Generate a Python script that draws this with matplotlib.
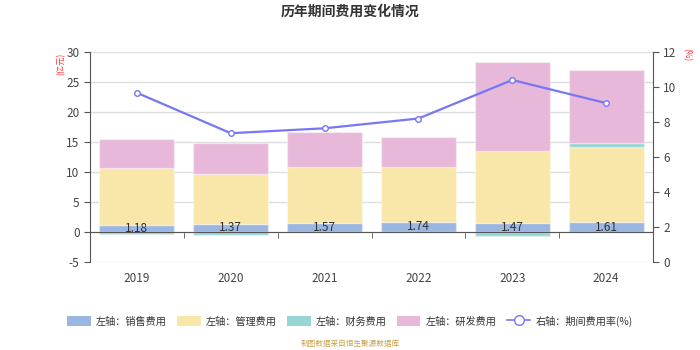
import matplotlib
matplotlib.use("Agg")
import matplotlib.pyplot as plt
import numpy as np
from matplotlib.patches import Patch
from matplotlib.lines import Line2D

plt.rcParams['font.family'] = ['Noto Sans CJK SC', 'DejaVu Sans']
plt.rcParams['axes.unicode_minus'] = False

years = ['2019', '2020', '2021', '2022', '2023', '2024']
sales = [1.18, 1.37, 1.57, 1.74, 1.47, 1.61]
admin = [9.55, 8.25, 9.25, 9.05, 12.05, 12.55]
finance = [-0.3, -0.45, -0.05, -0.05, -0.7, 0.7]
rnd = [4.75, 5.15, 5.8, 5.1, 14.8, 12.1]
rate = [9.67, 7.36, 7.64, 8.2, 10.4, 9.08]

series_names = ['左轴：销售费用', '左轴：管理费用', '左轴：财务费用', '左轴：研发费用']
line_name = '右轴：期间费用率(%)'
colors = ['#9bb7e1', '#f8e7a9', '#98d6d6', '#e7b8d9']
line_color = '#7777f6'

fig = plt.figure(figsize=(7, 3.5), dpi=100)
ax = fig.add_axes([90 / 700, 88 / 350, 563 / 700, 210 / 350])
ax2 = ax.twinx()

x = np.arange(len(years))
width = 0.8
pos_base = np.zeros(len(years))
neg_base = np.zeros(len(years))
for vals, color in zip([sales, admin, finance, rnd], colors):
    vals = np.array(vals, dtype=float)
    bottoms = np.where(vals >= 0, pos_base, neg_base)
    ax.bar(x, vals, width, bottom=bottoms, color=color,
           edgecolor=(1, 1, 1, 0.35), linewidth=1.0, zorder=3)
    pos_base = pos_base + np.where(vals >= 0, vals, 0)
    neg_base = neg_base + np.where(vals < 0, vals, 0)

for xi, v in zip(x, sales):
    ax.text(xi, v / 2, f'{v:.2f}', ha='center', va='center',
            fontsize=8.5, color='#333333', zorder=5)

ax.set_xlim(-0.5, len(years) - 0.5)
ax.set_ylim(-5, 30)
ax.set_yticks(np.arange(-5, 31, 5))
ax.yaxis.grid(True, color='#dddddd', linewidth=1, zorder=0)
ax.set_axisbelow(True)

ax.spines['top'].set_visible(False)
ax.spines['right'].set_visible(False)
ax.spines['left'].set_color('#555555')
ax.spines['bottom'].set_position(('data', 0))
ax.spines['bottom'].set_color('#555555')
ax.spines['bottom'].set_zorder(4)

ax.set_xticks(x)
ax.set_xticklabels(years)
ax.set_xticks(np.arange(-0.5, len(years), 1), minor=True)
ax.tick_params(axis='x', which='major', length=0, pad=29, labelsize=8.5, labelcolor='#444444')
ax.tick_params(axis='x', which='minor', length=4, color='#555555', direction='out')
ax.tick_params(axis='y', length=4, color='#555555', labelsize=8.5, labelcolor='#444444')

ax2.plot(x, rate, color=line_color, linewidth=1.6, marker='o', markersize=4,
         markerfacecolor='white', markeredgecolor=line_color, markeredgewidth=1, zorder=6)
ax2.set_ylim(0, 12)
ax2.set_yticks(np.arange(0, 13, 2))
for side in ['top', 'left', 'bottom']:
    ax2.spines[side].set_visible(False)
ax2.spines['right'].set_color('#555555')
ax2.tick_params(axis='y', length=4, color='#555555', labelsize=8.5, labelcolor='#444444')

fig.text(0.5, 1 - 12 / 350, '历年期间费用变化情况', ha='center', va='center',
         fontsize=10, fontweight='bold', color='#333333')
fig.text(61 / 700, 1 - 64 / 350, '(亿元)', rotation=90, ha='center', va='center',
         fontsize=6, color='#ff3333')
fig.text(687 / 700, 1 - 55 / 350, '(%)', rotation=270, ha='center', va='center',
         fontsize=6, color='#ff3333')

handles = [Patch(facecolor=c, edgecolor='none') for c in colors]
handles.append(Line2D([0], [0], color=line_color, linewidth=1.2, marker='o', markersize=7,
                      markerfacecolor='white', markeredgecolor=line_color))
fig.legend(handles, series_names + [line_name], loc='center', bbox_to_anchor=(0.5, 1 - 321 / 350),
           ncol=5, frameon=False, fontsize=7.3, handlelength=2.3, handleheight=1.1,
           columnspacing=1.05, handletextpad=0.5, labelcolor='#333333')

fig.text(0.5, 1 - 344 / 350, '制图数据来自恒生聚源数据库', ha='center', va='center',
         fontsize=5.5, color='#c9a24a')

fig.savefig('out.png', dpi=100)
